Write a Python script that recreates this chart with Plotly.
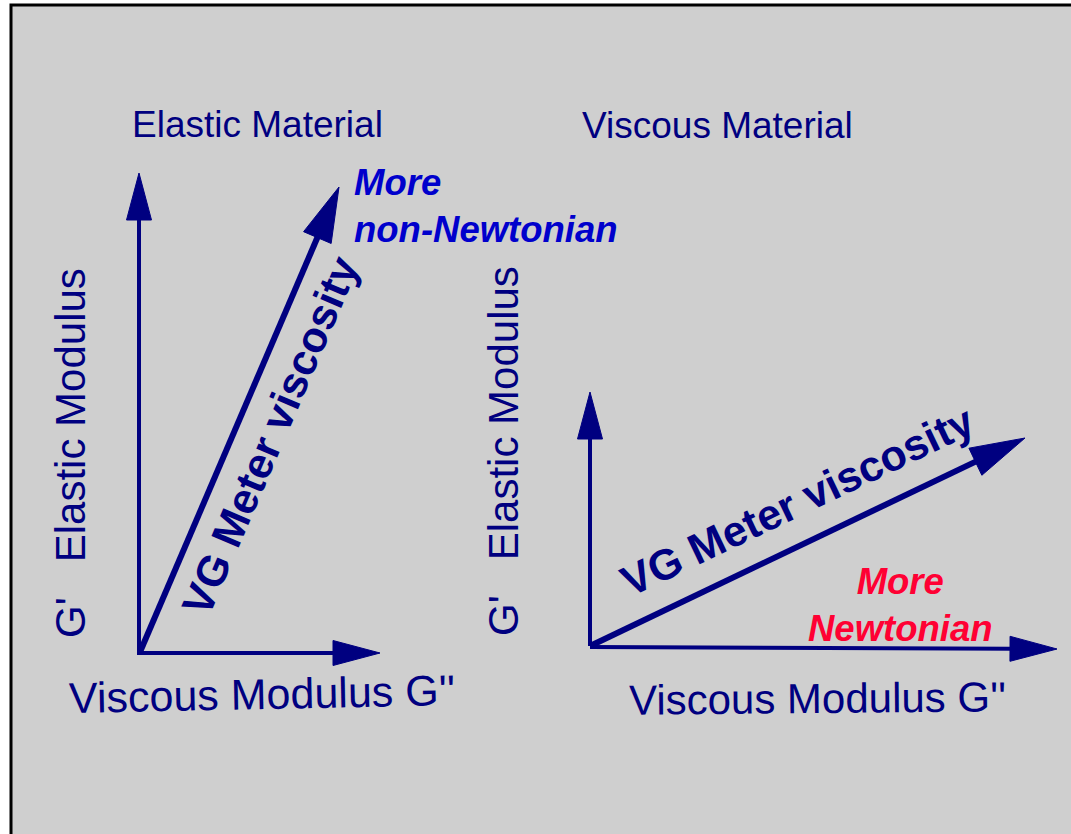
import math
import plotly.graph_objects as go

# ---- data (diagram coordinates, y grows downward) ----
arrow_names = ["left G' axis", "left G'' axis", "left VG", "right G' axis", "right G'' axis", "right VG"]
arrow_x0 = [139, 139, 140, 590, 590, 590]
arrow_y0 = [655, 653, 652, 646, 647, 646]
arrow_x1 = [139, 380, 339, 590, 1057, 1025]
arrow_y1 = [173, 653, 187, 392, 649, 438]
arrow_kind = ["axis", "axis", "vg", "axis", "axis", "vg"]

titles = ["Elastic Material", "Viscous Material"]
title_x = [257, 717]
title_y = [124, 125]

xlabels = ["Viscous Modulus G''", "Viscous Modulus G''"]
xlabel_x = [262, 817]
xlabel_y = [694, 698]
xlabel_size = [43, 42]

ylabels = ["G'   Elastic Modulus", "G'   Elastic Modulus"]
ylabel_x = [70, 503]
ylabel_y = [453, 451]

vg_text = ["VG Meter viscosity", "VG Meter viscosity"]
vg_x = [270, 797]
vg_y = [436, 501]

note_text = ["More<br>non-Newtonian", "More<br>Newtonian"]
note_x = [352, 900]
note_y = [206, 605]

NAVY = "#000080"
FONT = "Liberation Sans, Arial, sans-serif"

fig = go.Figure()

for i in range(len(arrow_x0)):
    x0, y0, x1, y1 = arrow_x0[i], arrow_y0[i], arrow_x1[i], arrow_y1[i]
    if arrow_kind[i] == "vg":
        L, W, lw = 55, 15, 6
    else:
        L, W, lw = 47, 12.5, 4
    dx, dy = x1 - x0, y1 - y0
    d = math.hypot(dx, dy)
    ux, uy = dx / d, dy / d
    bx, by = x1 - ux * L, y1 - uy * L
    px, py = -uy, ux
    fig.add_trace(go.Scatter(x=[x0, bx + ux * 2], y=[y0, by + uy * 2], mode="lines",
                             line=dict(color=NAVY, width=lw), hoverinfo="skip",
                             showlegend=False, name=arrow_names[i]))
    fig.add_trace(go.Scatter(x=[x1, bx + px * W, bx - px * W, x1],
                             y=[y1, by + py * W, by - py * W, y1],
                             mode="lines", fill="toself", fillcolor=NAVY,
                             line=dict(color=NAVY, width=1), hoverinfo="skip",
                             showlegend=False))

ann = []
for t, x, y in zip(titles, title_x, title_y):
    ann.append(dict(x=x, y=y, text=t, showarrow=False, font=dict(size=37, color=NAVY, family=FONT)))
for t, x, y, a, s in zip(xlabels, xlabel_x, xlabel_y, [-1.2, -0.5], xlabel_size):
    ann.append(dict(x=x, y=y, text=t, showarrow=False, textangle=a,
                    font=dict(size=s, color=NAVY, family=FONT)))
for t, x, y in zip(ylabels, ylabel_x, ylabel_y):
    ann.append(dict(x=x, y=y, text=t, showarrow=False, textangle=-90,
                    font=dict(size=42, color=NAVY, family=FONT)))
for i, (t, x, y) in enumerate(zip(vg_text, vg_x, vg_y)):
    dx = arrow_x1[2 + 3 * i] - arrow_x0[2 + 3 * i]
    dy = arrow_y1[2 + 3 * i] - arrow_y0[2 + 3 * i]
    ang = math.degrees(math.atan2(dy, dx))
    ann.append(dict(x=x, y=y, text="<b>" + t + "</b>", showarrow=False, textangle=ang,
                    font=dict(size=43, color=NAVY, family=FONT)))
ann.append(dict(x=note_x[0], y=note_y[0], text="<b><i>" + note_text[0] + "</i></b>",
                showarrow=False, xanchor="left", align="left",
                font=dict(size=36.5, color="#0000cc", family=FONT)))
ann.append(dict(x=note_x[1], y=note_y[1], text="<b><i>" + note_text[1] + "</i></b>",
                showarrow=False, xanchor="center", align="center",
                font=dict(size=36.5, color="#ff0033", family=FONT)))

fig.update_layout(
    width=1071, height=834,
    margin=dict(l=0, r=0, t=0, b=0),
    paper_bgcolor="white", plot_bgcolor="white",
    xaxis=dict(range=[0, 1071], visible=False, fixedrange=True),
    yaxis=dict(range=[834, 0], visible=False, fixedrange=True),
    shapes=[dict(type="rect", xref="x", yref="y", x0=11, y0=5, x1=1100, y1=860,
                 fillcolor="#cfcfcf", line=dict(color="black", width=3), layer="below")],
    annotations=ann,
    showlegend=False,
)

fig.write_html("out.html", config={"displayModeBar": False},
               post_script="document.body.style.margin='0';document.body.style.overflow='hidden';")
